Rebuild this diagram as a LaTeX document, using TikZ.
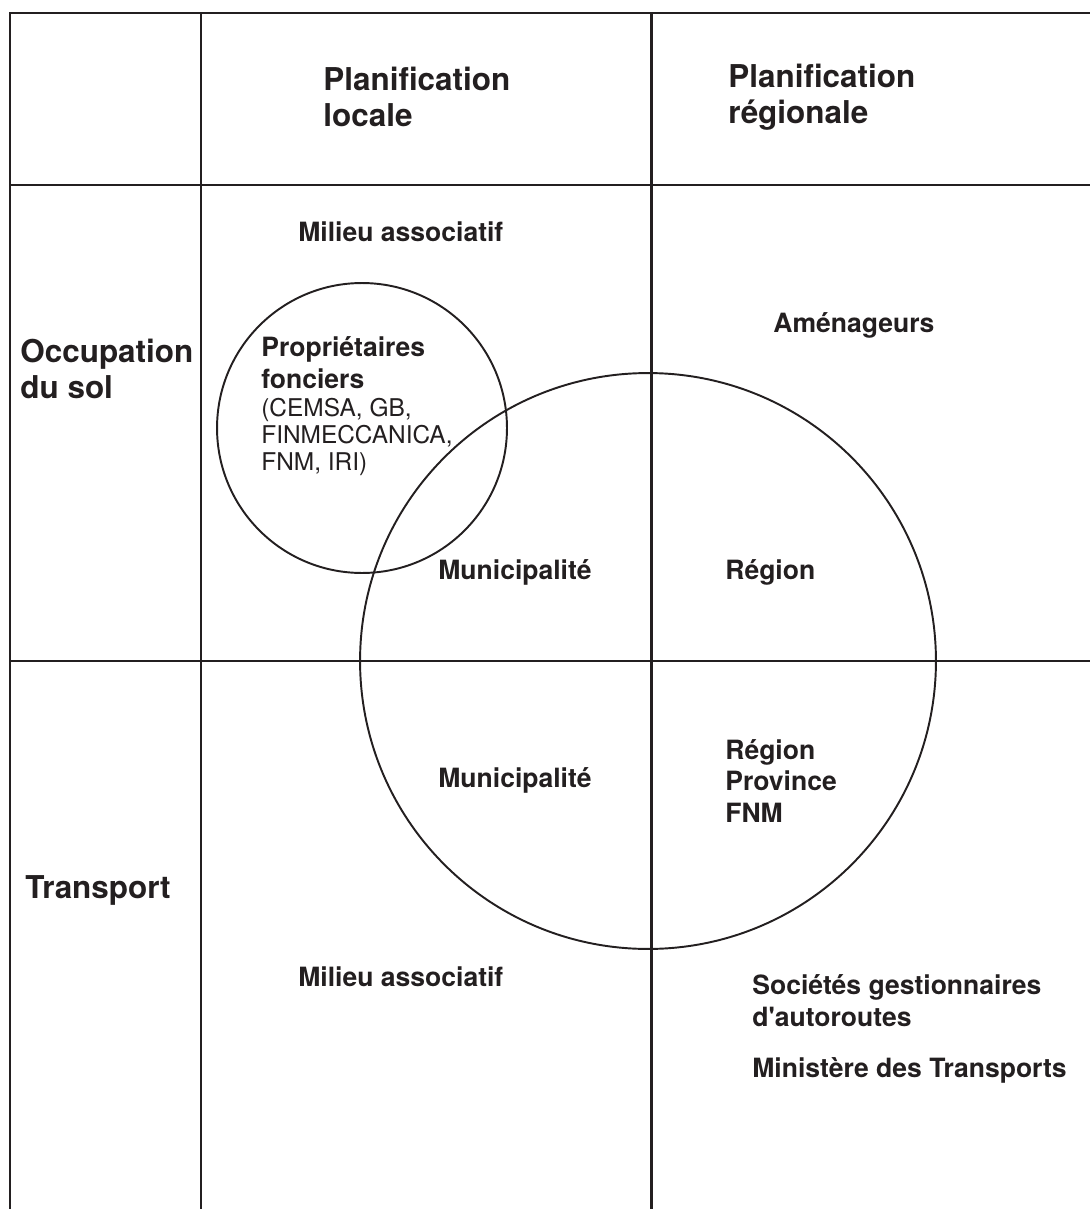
\documentclass[tikz,border=0pt]{standalone}
\usepackage{fontspec}
\setmainfont{TeX Gyre Heros}
\usepackage{tikz}
\usetikzlibrary{positioning}
\definecolor{gridink}{RGB}{35,31,32}

\begin{document}
\begin{tikzpicture}[
  x=0.02cm, y=-0.02cm,
  every node/.style={text=gridink},
  head/.style={anchor=west, align=left, inner sep=0pt,
               font=\fontsize{17.9}{20.5}\selectfont\bfseries},
  actor/.style={anchor=west, align=left, inner sep=0pt,
                font=\fontsize{15.1}{18.2}\selectfont\bfseries},
  detail/.style={anchor=west, align=left, inner sep=0pt,
                 font=\fontsize{13.9}{15.6}\selectfont},
  rule/.style={draw=gridink, line width=1.7pt},
  ring/.style={circle, draw=gridink, line width=1.1pt, inner sep=0pt}
]

\useasboundingbox (0,0) rectangle (1090,1209);

%% Grid
\draw[rule] (10,1209) -- (10,13) -- (1090,13);
\draw[rule] (201,13) -- (201,1209);
\draw[rule] (651,13) -- (651,1209);
\draw[rule] (10,185) -- (1090,185);
\draw[rule] (10,661) -- (1090,661);

%% Circles
\node[ring, minimum size=11.52cm] (bigring) at (648,661) {};
\node[ring, minimum size=5.8cm] (smallring) at (362,428) {};

%% Column heads
\node[head] (hdlocal) at (323,97) {Planification\\locale};
\node[head] (hdregion) at (728,97) {Planification\\régionale};

%% Row heads
\node[head] (occup) at (20,369) {Occupation\\du sol};
\node[head] (transp) at (25,890) {Transport};

%% Land use row
\node[actor] (milieutop) at (298,232) {Milieu associatif};
\node[actor] (amenag) at (773,325) {Aménageurs};
\node[actor] (proprio) at (261,363) {Propriétaires\\fonciers};
\node[detail] (proplist) at (261,437) {(CEMSA, GB,\\FINMECCANICA,\\FNM, IRI)};
\node[actor] (munitop) at (438,572) {Municipalité};
\node[actor] (regtop) at (725,572) {Région};

%% Transport row
\node[actor] (munibot) at (438,780) {Municipalité};
\node[actor] (regbot) at (725,781) {Région\\Province\\FNM};
\node[actor] (milieubot) at (298,977) {Milieu associatif};
\node[actor] (societes) at (752,1001)
  {Sociétés gestionnaires\\d\textquotesingle autoroutes};
\node[actor] (minist) at (752,1070) {Ministère des Transports};

\end{tikzpicture}
\end{document}
